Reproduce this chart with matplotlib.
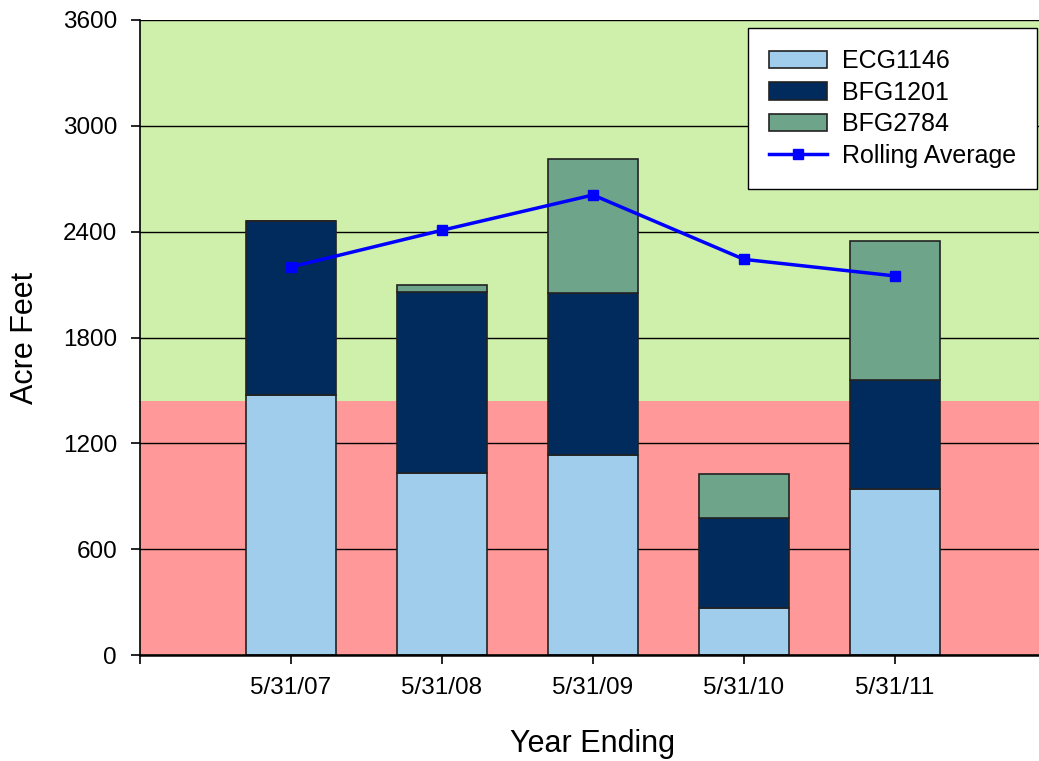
import matplotlib.pyplot as plt
import numpy as np

plt.rcParams['font.family'] = ['Liberation Sans', 'DejaVu Sans']

years = ['5/31/07', '5/31/08', '5/31/09', '5/31/10', '5/31/11']
ecg1146 = [1474, 1032, 1134, 266, 940]
bfg1201 = [986, 1026, 918, 510, 617]
bfg2784 = [0, 42, 760, 249, 792]
rollingAvg = [2200, 2408, 2608, 2243, 2149]
thresholdLevel = 1440

colEcg = '#A0CDEB'
colBfg1201 = '#002B5C'
colBfg2784 = '#6EA58A'

fig = plt.figure(figsize=(10.39, 7.61), dpi=100)
ax = fig.add_axes([140 / 1039, 106 / 761, 906 / 1039, 635 / 761])

x = np.arange(1, len(years) + 1)
ecg = np.array(ecg1146)
b1 = np.array(bfg1201)
b2 = np.array(bfg2784)

ax.axhspan(0, thresholdLevel, color='#FF9999', zorder=0.1, lw=0)
ax.axhspan(thresholdLevel, 3600, color='#CEF0AA', zorder=0.1, lw=0)

barKw = dict(width=0.6, edgecolor='#222222', linewidth=1.2, zorder=2)
h1 = ax.bar(x, ecg, color=colEcg, label='ECG1146', **barKw)
h2 = ax.bar(x, b1, bottom=ecg, color=colBfg1201, label='BFG1201', **barKw)
h3 = ax.bar(x, b2, bottom=ecg + b1, color=colBfg2784, label='BFG2784', **barKw)
h4, = ax.plot(x, rollingAvg, color='#0000FF', linewidth=2.5, marker='s', markersize=7,
              label='Rolling Average', zorder=3)

ax.set_xlim(0, 6)
ax.set_ylim(0, 3600)
ax.set_yticks(np.arange(0, 3601, 600))
ax.set_xticks(np.arange(0, 7))
ax.set_xticklabels([''] + years + [''])
ax.yaxis.grid(True, color='black', linewidth=1)
ax.set_axisbelow(True)
ax.tick_params(axis='both', labelsize=17.5, direction='out', length=6.5, width=1.2, color='black')
ax.tick_params(axis='x', pad=9)
ax.tick_params(axis='y', pad=10)

for side in ['top', 'right']:
    ax.spines[side].set_visible(False)
ax.spines['left'].set_linewidth(1.2)
ax.spines['bottom'].set_linewidth(1.8)

ax.set_xlabel('Year Ending', fontsize=22, labelpad=22)
ax.set_ylabel('Acre Feet', fontsize=22, labelpad=16)

leg = ax.legend(handles=[h1, h2, h3, h4], loc='upper left',
                bbox_to_anchor=(608 / 906, 1 - 8 / 635), borderaxespad=0, fontsize=18,
                frameon=True, fancybox=False, edgecolor='black', facecolor='white',
                framealpha=1, handlelength=2.3, handleheight=0.72, handletextpad=0.6,
                borderpad=0.85, labelspacing=0.3)
leg.get_frame().set_linewidth(1.0)

plt.savefig('out.png', dpi=100)
